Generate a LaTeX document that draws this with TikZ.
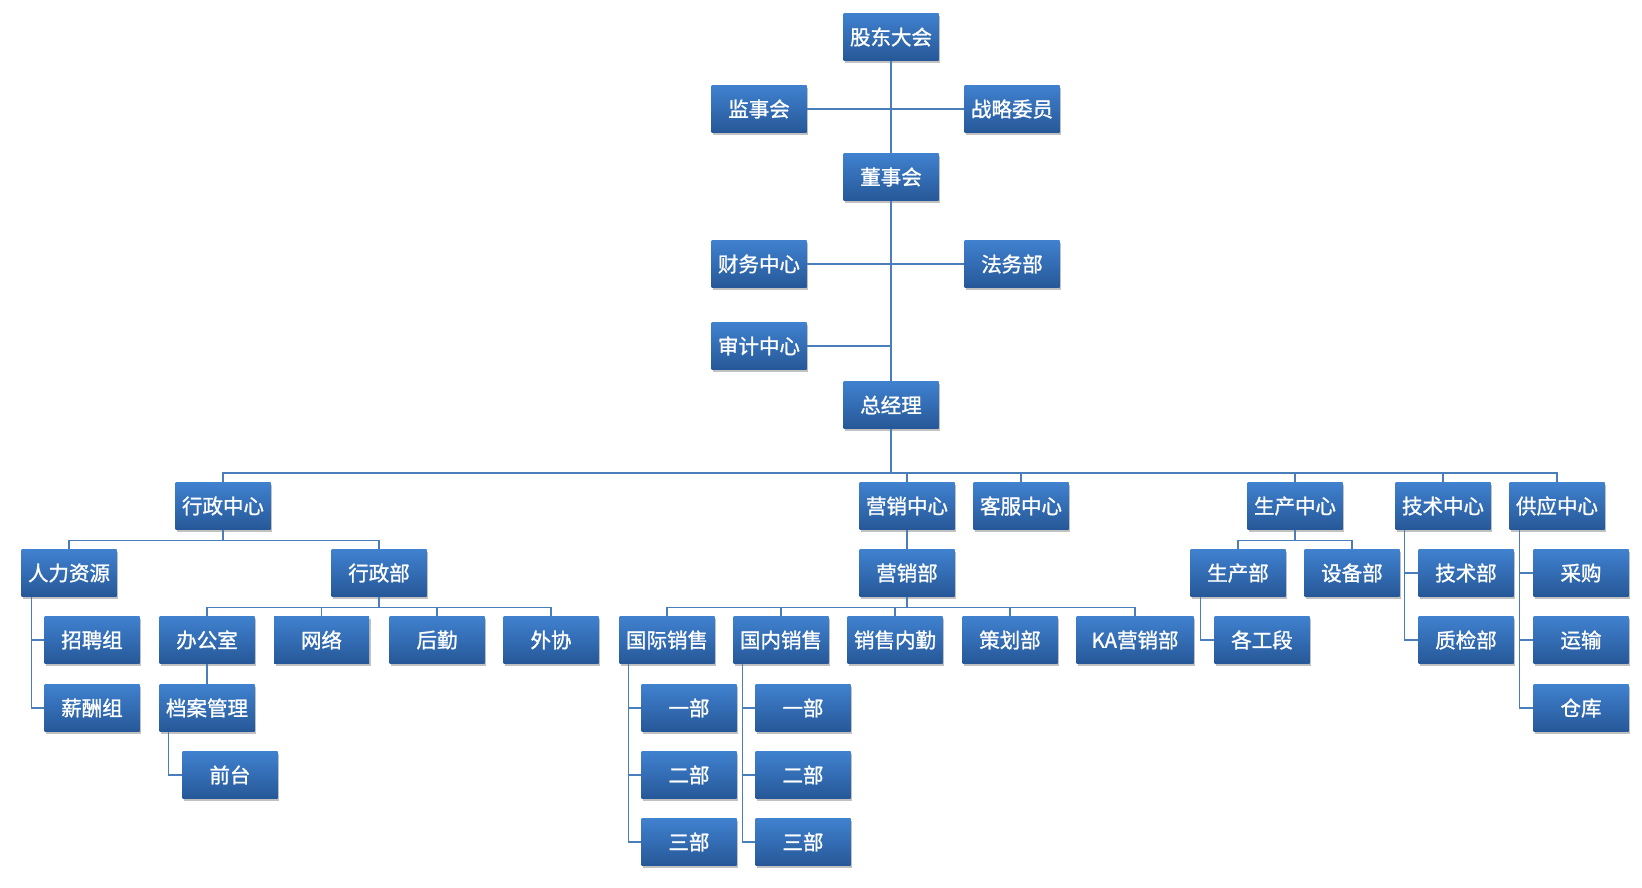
\documentclass[tikz,border=0pt]{standalone}
\usepackage{fontspec}
\newfontfamily\cjk{Noto Sans CJK SC}[FakeBold=1.2]
\usetikzlibrary{shadows}
\definecolor{boxtop}{RGB}{64,129,207}
\definecolor{boxbot}{RGB}{38,88,152}
\definecolor{linec}{RGB}{74,126,187}
\tikzset{
  box/.style={draw=none, minimum width=95pt, minimum height=47pt, inner sep=0pt,
    top color=boxtop, bottom color=boxbot, text=white,
    font=\cjk\fontsize{20.5}{24}\selectfont,
    drop shadow={shadow xshift=1.5pt, shadow yshift=-2pt, opacity=0.35, fill=black!70}},
  conn/.style={draw=linec, line width=1.4pt}
}
\begin{document}
\begin{tikzpicture}[x=1pt, y=-1pt]
\useasboundingbox (0,0) rectangle (1642,887);
% top levels
\node[box] (gd) at (891,37) {股东大会};
\node[box] (jsh) at (759,109) {监事会};
\node[box] (zlwy) at (1012,109) {战略委员};
\node[box] (dsh) at (891,177) {董事会};
\node[box] (cw) at (759,264) {财务中心};
\node[box] (fw) at (1012,264) {法务部};
\node[box] (sj) at (759,346) {审计中心};
\node[box] (zjl) at (891,405) {总经理};
% row 1
\node[box] (xzzx) at (223,506) {行政中心};
\node[box] (yxzx) at (907,506) {营销中心};
\node[box] (kfzx) at (1021,506) {客服中心};
\node[box] (sczx) at (1295,506) {生产中心};
\node[box] (jszx) at (1443,506) {技术中心};
\node[box] (gyzx) at (1557,506) {供应中心};
% row 2
\node[box] (rlzy) at (69,573) {人力资源};
\node[box] (xzb) at (379,573) {行政部};
\node[box] (yxb) at (907,573) {营销部};
\node[box] (scb) at (1238,573) {生产部};
\node[box] (sbb) at (1352,573) {设备部};
\node[box] (jsb) at (1466,573) {技术部};
\node[box] (cg) at (1581,573) {采购};
% row 3
\node[box] (zpz) at (92,640) {招聘组};
\node[box] (bgs) at (207,640) {办公室};
\node[box] (wl) at (321.5,640) {网络};
\node[box] (hq) at (437,640) {后勤};
\node[box] (wx) at (551,640) {外协};
\node[box] (gjxs) at (667,640) {国际销售};
\node[box] (gnxs) at (781,640) {国内销售};
\node[box] (xsnq) at (895,640) {销售内勤};
\node[box] (chb) at (1010,640) {策划部};
\node[box, minimum width=117pt] (ka) at (1135,640) {KA营销部};
\node[box] (gdg) at (1262,640) {各工段};
\node[box] (zjb) at (1466,640) {质检部};
\node[box] (ys) at (1581,640) {运输};
% row 4
\node[box] (xcz) at (92,708) {薪酬组};
\node[box] (dagl) at (207,708) {档案管理};
\node[box] (yb1) at (689,708) {一部};
\node[box] (yb2) at (803,708) {一部};
\node[box] (ck) at (1581,708) {仓库};
% row 5
\node[box] (qt) at (230,775) {前台};
\node[box] (eb1) at (689,775) {二部};
\node[box] (eb2) at (803,775) {二部};
% row 6
\node[box] (sb1) at (689,842) {三部};
\node[box] (sb2) at (803,842) {三部};

% connectors
\coordinate (bus) at (0,473);
\coordinate (busA) at (0,540.5);
\coordinate (busB) at (0,607.5);
\draw[conn] (gd.south) -- (dsh.north);
\draw[conn] (jsh.east) -- (zlwy.west);
\draw[conn] (dsh.south) -- (zjl.north);
\draw[conn] (cw.east) -- (fw.west);
\draw[conn] (sj.east) -- (sj.east -| zjl.north);
\draw[conn] (zjl.south) -- (zjl.south |- bus);
\foreach \c in {xzzx,yxzx,kfzx,sczx,jszx,gyzx}
  \draw[conn] (zjl.south |- bus) -| (\c.north);
\draw[conn] (yxzx.south) -- (yxb.north);
\foreach \c in {rlzy,xzb}
  \draw[conn] (xzzx.south) -- (xzzx.south |- busA) -| (\c.north);
\foreach \c in {scb,sbb}
  \draw[conn] (sczx.south) -- (sczx.south |- busA) -| (\c.north);
\foreach \c in {bgs,wl,hq,wx}
  \draw[conn] (xzb.south) -- (xzb.south |- busB) -| (\c.north);
\foreach \c in {gjxs,gnxs,xsnq,chb,ka}
  \draw[conn] (yxb.south) -- (yxb.south |- busB) -| (\c.north);
\draw[conn] (bgs.south) -- (dagl.north);
\foreach \c in {zpz,xcz}
  \draw[conn] ([xshift=10pt]rlzy.south west) |- (\c.west);
\draw[conn] ([xshift=9pt]dagl.south west) |- (qt.west);
\foreach \c in {yb1,eb1,sb1}
  \draw[conn] ([xshift=9pt]gjxs.south west) |- (\c.west);
\foreach \c in {yb2,eb2,sb2}
  \draw[conn] ([xshift=9pt]gnxs.south west) |- (\c.west);
\draw[conn] ([xshift=10pt]scb.south west) |- (gdg.west);
\foreach \c in {jsb,zjb}
  \draw[conn] ([xshift=9pt]jszx.south west) |- (\c.west);
\foreach \c in {cg,ys,ck}
  \draw[conn] ([xshift=10pt]gyzx.south west) |- (\c.west);
\end{tikzpicture}
\end{document}
